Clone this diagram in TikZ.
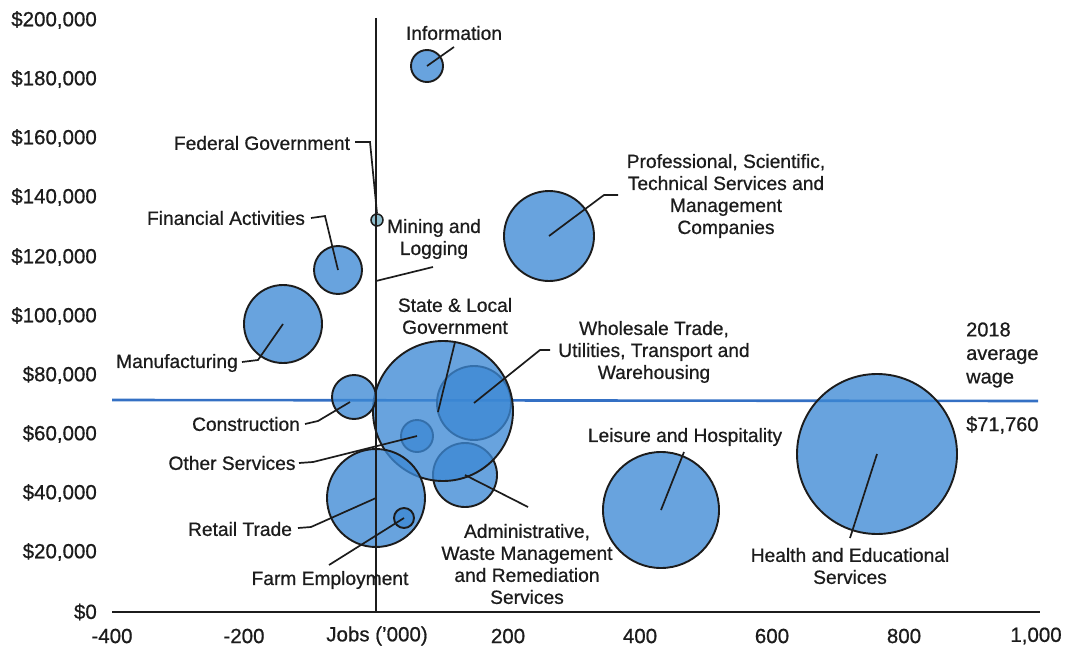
\documentclass[tikz,border=0pt]{standalone}
\usepackage{fontspec}
\setmainfont{Liberation Sans}[FakeBold=0.7]
\definecolor{bub}{RGB}{60,136,212}
\definecolor{ink}{RGB}{28,28,28}
\definecolor{avg}{RGB}{52,112,196}
\definecolor{fedc}{RGB}{110,170,190}
\tikzset{
  bubble/.style={circle, draw=ink, line width=1.9pt, fill=bub, fill opacity=0.775, draw opacity=1, inner sep=0pt},
  lbl/.style={text=ink, font=\fontsize{19.2}{22}\selectfont, inner sep=0pt, align=center},
  tick/.style={text=ink, font=\fontsize{20.5}{24}\selectfont, inner sep=0pt},
  leader/.style={draw=ink, line width=1.7pt},
  axisline/.style={draw=ink, line width=2.4pt}
}
\begin{document}
\begin{tikzpicture}[x=1pt,y=-1pt]
\useasboundingbox (0,0) rectangle (1070,650);
% average wage line
\coordinate (avgL) at (112,400);
\coordinate (avgR) at (1038,401);
\draw[avg, line width=2.6pt] (avgL) -- (avgR);
% bubbles (inner ones first)
\node[bubble, minimum size=32pt] (osv) at (417,436) {};
\node[bubble, minimum size=74pt] (whs) at (474,403) {};
\node[bubble, minimum size=64pt] (adm) at (465,475) {};
\node[bubble, minimum size=140pt] (slg) at (443,411) {};
\node[bubble, minimum size=32pt] (inf) at (427,66) {};
\node[bubble, minimum size=12pt, line width=1.5pt, fill=fedc] (fed) at (377,220) {};
\node[bubble, minimum size=48pt] (fin) at (338,270) {};
\node[bubble, minimum size=78pt] (man) at (283,324) {};
\node[bubble, minimum size=90pt] (pro) at (549,236) {};
\node[bubble, minimum size=44pt] (con) at (354,397) {};
\node[bubble, minimum size=98pt] (ret) at (376,498) {};
\node[bubble, minimum size=20pt] (frm) at (404,518) {};
\node[bubble, minimum size=116pt] (lei) at (661,510) {};
\node[bubble, minimum size=160pt] (hea) at (877,454) {};
% axes
\coordinate (xaL) at (112,612);
\coordinate (xaR) at (1040,612);
\coordinate (yaT) at (376,18);
\coordinate (yaB) at (376,612);
\draw[axisline] (xaL) -- (xaR);
\draw[axisline, line width=1.9pt] (yaT) -- (yaB);
% y tick labels
\foreach \v/\yy in {{\$200,000}/20,{\$180,000}/79,{\$160,000}/138,{\$140,000}/197,{\$120,000}/257,{\$100,000}/316,{\$80,000}/375,{\$60,000}/434,{\$40,000}/493,{\$20,000}/552,{\$0}/612}
  \node[tick, anchor=east] at (97,\yy) {\v};
% x tick labels
\foreach \v/\xx in {-400/112,-200/244,200/508,400/640,600/772,800/904,{1,000}/1036}
  \node[tick] at (\xx,636) {\v};
\node[tick] (jobs) at (377,636) {Jobs ('000)};
% labels
\node[lbl] (tinf) at (454,33) {Information};
\node[lbl] (tfed) at (262,143) {Federal Government};
\node[lbl] (tfin) at (226,218) {Financial Activities};
\node[lbl] (tmin) at (434,239) {Mining and\\Logging};
\node[lbl] (tpro) at (726,196) {Professional, Scientific,\\Technical Services and\\Management\\Companies};
\node[lbl] (tslg) at (455,316) {State \& Local\\Government};
\node[lbl] (twhs) at (654,352) {Wholesale Trade,\\Utilities, Transport and\\Warehousing};
\node[lbl, anchor=west, align=left, font=\fontsize{20}{23.5}\selectfont] (tavg) at (966,355) {2018\\average\\wage};
\node[lbl, anchor=west, font=\fontsize{20}{24}\selectfont] (tval) at (966,425) {\$71,760};
\node[lbl] (tman) at (177,363) {Manufacturing};
\node[lbl] (tcon) at (246,424) {Construction};
\node[lbl] (tosv) at (232,463) {Other Services};
\node[lbl] (tret) at (240,529) {Retail Trade};
\node[lbl] (tfrm) at (330,580) {Farm Employment};
\node[lbl] (tadm) at (527,564) {Administrative,\\Waste Management\\and Remediation\\Services};
\node[lbl] (tlei) at (685,437) {Leisure and Hospitality};
\node[lbl] (thea) at (850,566) {Health and Educational\\Services};
% leader end coordinates
\coordinate (cinf) at (454,47);
\coordinate (cfed) at (355,142);
\coordinate (cfin) at (311,218);
\coordinate (cmin) at (433,267);
\coordinate (mining) at (376,281);
\coordinate (cman) at (242,362);
\coordinate (cpro) at (618,195);
\coordinate (ccon) at (305,424);
\coordinate (cosv) at (299,463);
\coordinate (cret) at (298,528);
\coordinate (cfrm) at (329,565);
\coordinate (cslg) at (455,342);
\coordinate (cwhs) at (550,350);
\coordinate (cadm) at (528,507);
\coordinate (clei) at (684,452);
\coordinate (chea) at (850,538);
% leaders
\draw[leader] (cinf) -- (inf.center);
\draw[leader] (cfed) -- ++(15,0) -- (fed.north);
\draw[leader] (cfin) -- ++(14,-2) -- (fin.center);
\draw[leader] (cmin) -- (mining);
\draw[leader] (cman) -- ++(16,-2) -- (man.center);
\draw[leader] (cpro) -- ++(-14,0) -- (pro.center);
\draw[leader] (ccon) -- ++(13,-3) -- (350,402);
\draw[leader] (cosv) -- ++(14,-1) -- (osv.center);
\draw[leader] (cret) -- ++(13,-1) -- (ret.center);
\draw[leader] (cfrm) -- (frm.center);
\draw[leader] (cslg) -- (438,412);
\draw[leader] (cwhs) -- ++(-10,0) -- (whs.center);
\draw[leader] (cadm) -- (adm.center);
\draw[leader] (clei) -- (lei.center);
\draw[leader] (chea) -- (hea.center);
\end{tikzpicture}
\end{document}
